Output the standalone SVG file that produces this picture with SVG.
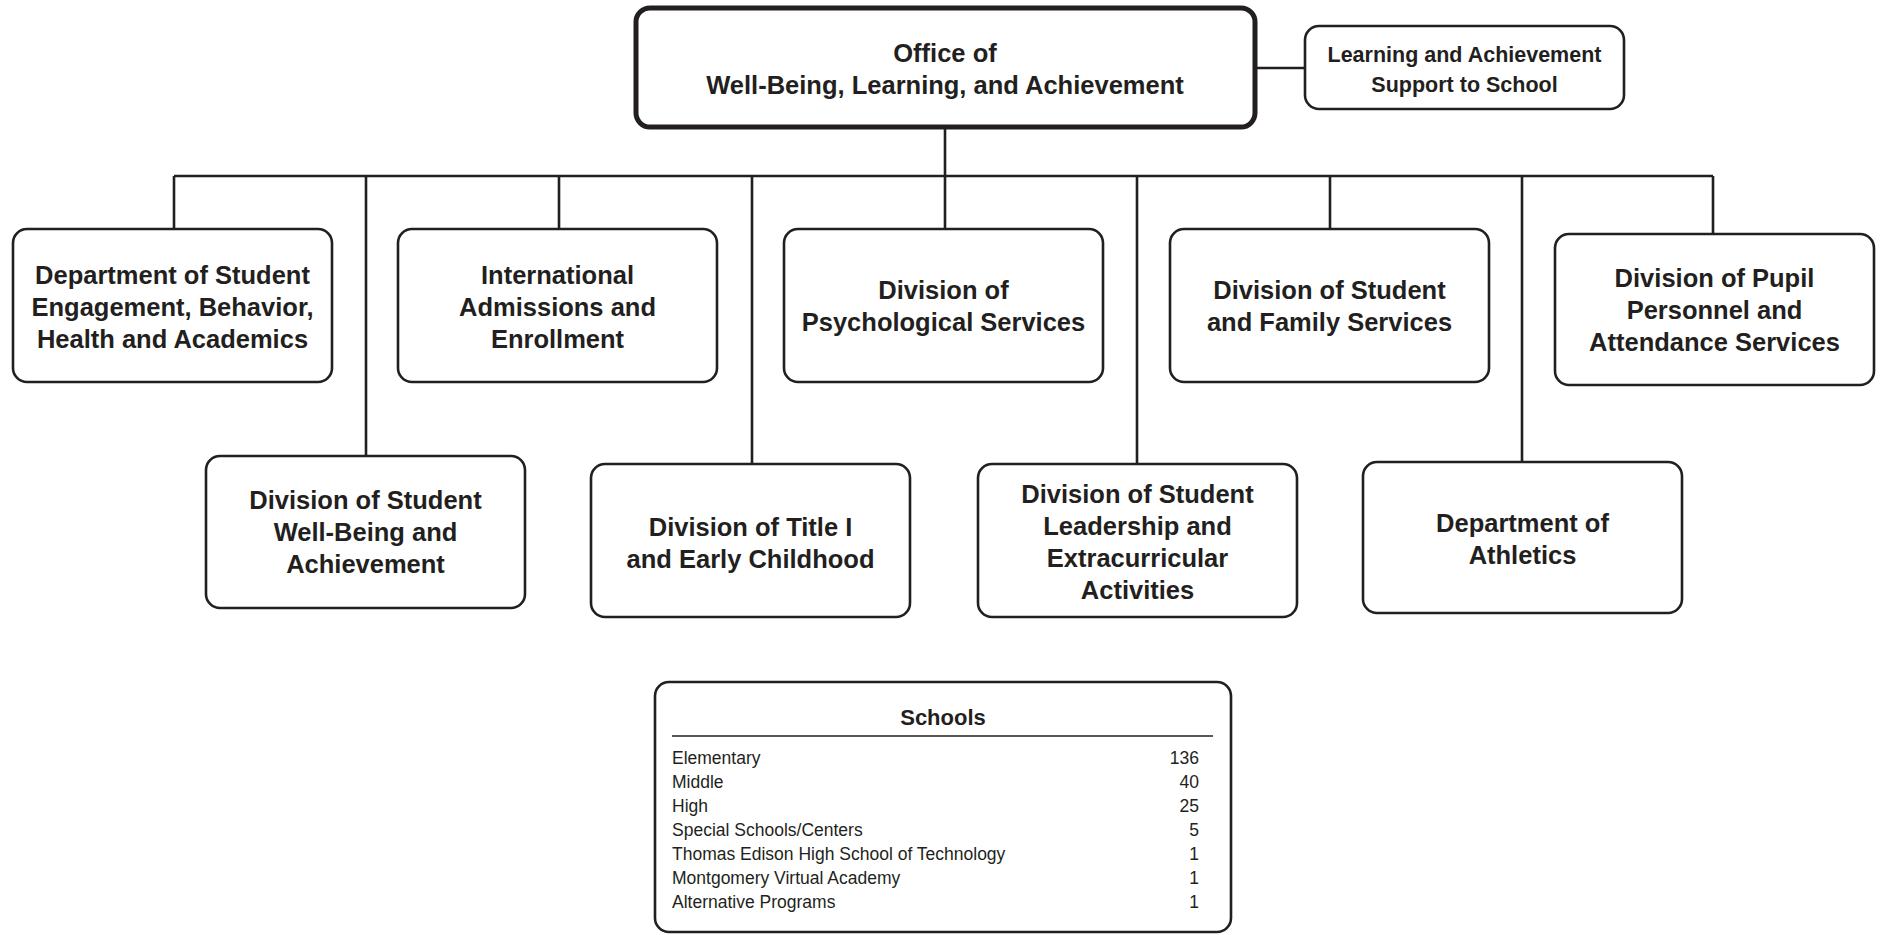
<svg xmlns="http://www.w3.org/2000/svg" width="1881" height="935" viewBox="0 0 1881 935">
<style>
.bg{fill:#ffffff}
.box{fill:#ffffff;stroke:#231f20;stroke-width:2.6}
.main{fill:#ffffff;stroke:#231f20;stroke-width:5}
.conn{fill:none;stroke:#231f20;stroke-width:2.6}
.t{font-family:"Liberation Sans",Arial,sans-serif;font-weight:bold;font-size:25.5px;fill:#231f20;text-anchor:middle}
.ts{font-family:"Liberation Sans",Arial,sans-serif;font-weight:bold;font-size:21.5px;fill:#231f20;text-anchor:middle}
.r{font-family:"Liberation Sans",Arial,sans-serif;font-size:17.5px;fill:#231f20}
.n{font-family:"Liberation Sans",Arial,sans-serif;font-size:17.5px;fill:#231f20;text-anchor:end}
</style>
<rect class="bg" x="0" y="0" width="1881" height="935"/>
<g id="connectors">
<line class="conn" x1="1255" y1="68" x2="1305" y2="68"/>
<line class="conn" x1="945" y1="127" x2="945" y2="229"/>
<line class="conn" x1="174" y1="176" x2="1713" y2="176"/>
<line class="conn" x1="174" y1="176" x2="174" y2="229"/>
<line class="conn" x1="366" y1="176" x2="366" y2="456"/>
<line class="conn" x1="559" y1="176" x2="559" y2="229"/>
<line class="conn" x1="752" y1="176" x2="752" y2="464"/>
<line class="conn" x1="1137" y1="176" x2="1137" y2="464"/>
<line class="conn" x1="1330" y1="176" x2="1330" y2="229"/>
<line class="conn" x1="1522" y1="176" x2="1522" y2="462"/>
<line class="conn" x1="1713" y1="176" x2="1713" y2="234"/>
</g>
<g id="office">
<rect class="main" x="636" y="8" width="619" height="119" rx="14"/>
<text class="t" x="945" y="62">Office of</text>
<text class="t" x="945" y="94">Well-Being, Learning, and Achievement</text>
</g>
<g id="support">
<rect class="box" x="1305" y="26" width="319" height="83" rx="14"/>
<text class="ts" x="1464.5" y="62">Learning and Achievement</text>
<text class="ts" x="1464.5" y="92">Support to School</text>
</g>
<g id="engagement">
<rect class="box" x="13" y="229" width="319" height="153" rx="14"/>
<text class="t" x="172.5" y="284">Department of Student</text>
<text class="t" x="172.5" y="316">Engagement, Behavior,</text>
<text class="t" x="172.5" y="348">Health and Academics</text>
</g>
<g id="international">
<rect class="box" x="398" y="229" width="319" height="153" rx="14"/>
<text class="t" x="557.5" y="284">International</text>
<text class="t" x="557.5" y="316">Admissions and</text>
<text class="t" x="557.5" y="348">Enrollment</text>
</g>
<g id="psych">
<rect class="box" x="784" y="229" width="319" height="153" rx="14"/>
<text class="t" x="943.5" y="299">Division of</text>
<text class="t" x="943.5" y="331">Psychological Services</text>
</g>
<g id="family">
<rect class="box" x="1170" y="229" width="319" height="153" rx="14"/>
<text class="t" x="1329.5" y="299">Division of Student</text>
<text class="t" x="1329.5" y="331">and Family Services</text>
</g>
<g id="pupil">
<rect class="box" x="1555" y="234" width="319" height="151" rx="14"/>
<text class="t" x="1714.5" y="287">Division of Pupil</text>
<text class="t" x="1714.5" y="319">Personnel and</text>
<text class="t" x="1714.5" y="351">Attendance Services</text>
</g>
<g id="wellbeing">
<rect class="box" x="206" y="456" width="319" height="152" rx="14"/>
<text class="t" x="365.5" y="509">Division of Student</text>
<text class="t" x="365.5" y="541">Well-Being and</text>
<text class="t" x="365.5" y="573">Achievement</text>
</g>
<g id="titlei">
<rect class="box" x="591" y="464" width="319" height="153" rx="14"/>
<text class="t" x="750.5" y="536">Division of Title I</text>
<text class="t" x="750.5" y="568">and Early Childhood</text>
</g>
<g id="leadership">
<rect class="box" x="978" y="464" width="319" height="153" rx="14"/>
<text class="t" x="1137.5" y="503">Division of Student</text>
<text class="t" x="1137.5" y="535">Leadership and</text>
<text class="t" x="1137.5" y="567">Extracurricular</text>
<text class="t" x="1137.5" y="599">Activities</text>
</g>
<g id="athletics">
<rect class="box" x="1363" y="462" width="319" height="151" rx="14"/>
<text class="t" x="1522.5" y="532">Department of</text>
<text class="t" x="1522.5" y="564">Athletics</text>
</g>
<g id="schools">
<rect class="box" x="655" y="682" width="576" height="250" rx="14"/>
<text class="ts" x="943" y="725" style="font-size:22px">Schools</text>
<line x1="672" y1="736" x2="1213" y2="736" stroke="#231f20" stroke-width="1.3"/>
<text class="r" x="672" y="764">Elementary</text><text class="n" x="1199" y="764">136</text>
<text class="r" x="672" y="788">Middle</text><text class="n" x="1199" y="788">40</text>
<text class="r" x="672" y="812">High</text><text class="n" x="1199" y="812">25</text>
<text class="r" x="672" y="836">Special Schools/Centers</text><text class="n" x="1199" y="836">5</text>
<text class="r" x="672" y="860">Thomas Edison High School of Technology</text><text class="n" x="1199" y="860">1</text>
<text class="r" x="672" y="884">Montgomery Virtual Academy</text><text class="n" x="1199" y="884">1</text>
<text class="r" x="672" y="908">Alternative Programs</text><text class="n" x="1199" y="908">1</text>
</g>
</svg>
